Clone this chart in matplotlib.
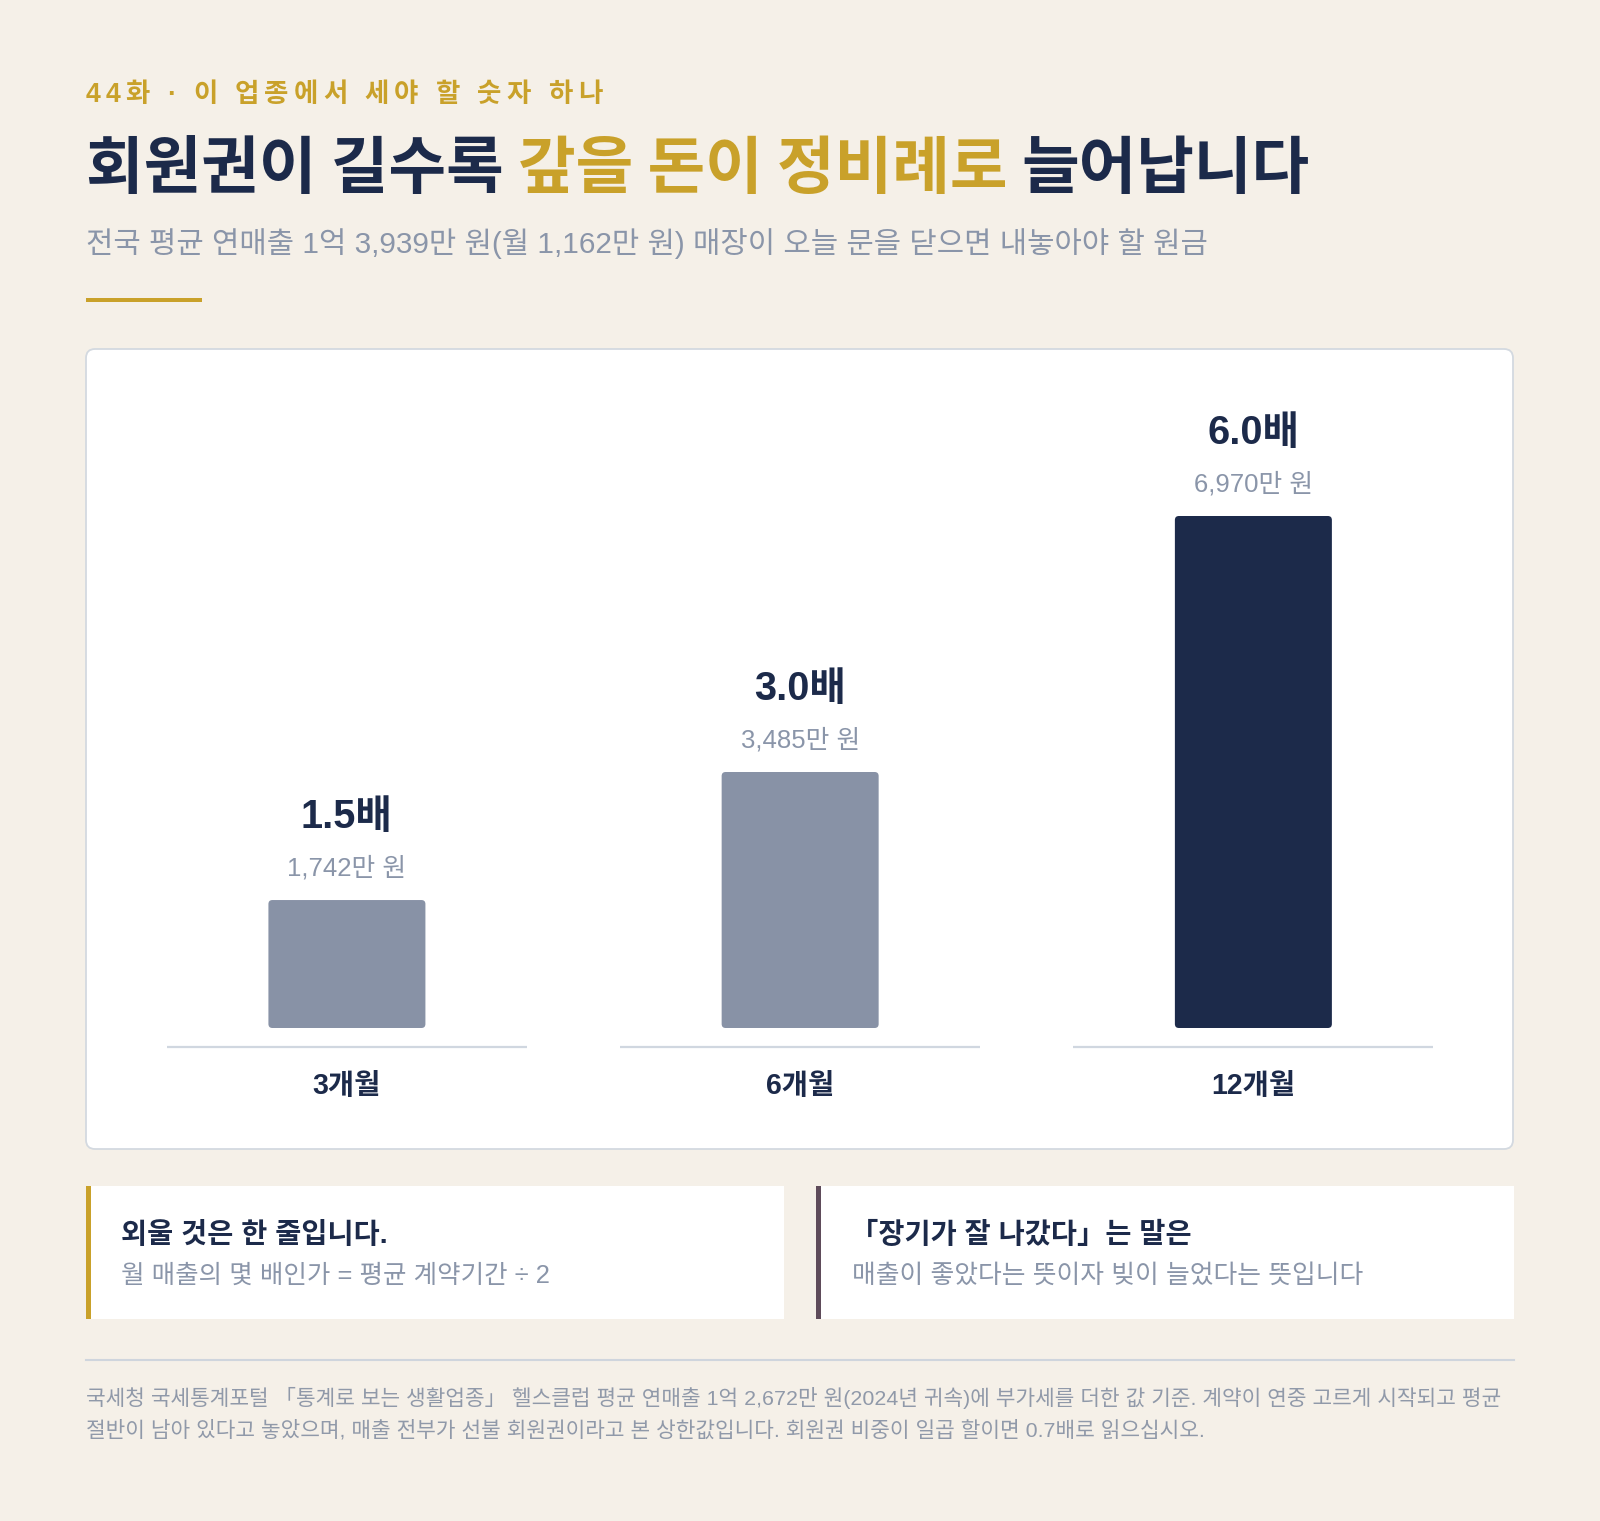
import matplotlib
matplotlib.use('Agg')
import matplotlib.pyplot as plt
from matplotlib.patches import FancyBboxPatch, Rectangle

# ---------------- data ----------------
periods = ['3개월', '6개월', '12개월']
multiples = [1.5, 3.0, 6.0]
amounts = [1742, 3485, 6970]          # 만 원
highlight = [False, False, True]

kicker = '44화 · 이 업종에서 세야 할 숫자 하나'
title_parts = ['회원권이 길수록 ', '갚을 돈이 정비례로', ' 늘어납니다']
subtitle = '전국 평균 연매출 1억 3,939만 원(월 1,162만 원) 매장이 오늘 문을 닫으면 내놓아야 할 원금'
card1_title = '외울 것은 한 줄입니다.'
card1_text = '월 매출의 몇 배인가 = 평균 계약기간 ÷ 2'
card2_title = '「장기가 잘 나갔다」는 말은'
card2_text = '매출이 좋았다는 뜻이자 빚이 늘었다는 뜻입니다'
foot_lines = [
    '국세청 국세통계포털 「통계로 보는 생활업종」 헬스클럽 평균 연매출 1억 2,672만 원(2024년 귀속)에 부가세를 더한 값 기준. 계약이 연중 고르게 시작되고 평균',
    '절반이 남아 있다고 놓았으며, 매출 전부가 선불 회원권이라고 본 상한값입니다. 회원권 비중이 일곱 할이면 0.7배로 읽으십시오.',
]

# ---------------- style ----------------
BG = '#f5f0e8'
NAVY = '#1c2a4a'
GOLD = '#c9a12a'
BARGRAY = '#8892a6'
TXTGRAY = '#8a95a9'
FOOTGRAY = '#9099a9'
LINE = '#d0d7e0'
ACCENT2 = '#5e4b5a'
MIX = ['Liberation Sans', 'Noto Sans CJK KR']
CJK = ['Noto Sans CJK KR', 'DejaVu Sans']

W, H = 1600, 1521
fig = plt.figure(figsize=(16, 15.21), dpi=100, facecolor=BG)
renderer = fig.canvas.get_renderer()
bg = fig.add_axes([0, 0, 1, 1], zorder=0)
bg.set_xlim(0, W)
bg.set_ylim(H, 0)
bg.axis('off')


def measure(s, fs, **kw):
    t = bg.text(0, 0, s, fontsize=fs, **kw)
    w = t.get_window_extent(renderer).width
    t.remove()
    return w


def fit_size(s, width, fs=20, **kw):
    for _ in range(3):
        fs *= width / measure(s, fs, **kw)
    return fs


def fit_text(x, y, s, width, **kw):
    fs = fit_size(s, width, **kw)
    return bg.text(x, y, s, fontsize=fs, ha='left', va='center', **kw), fs


# ---------------- header ----------------
# kicker with letter spacing
kfs = 26.5 * 0.72
kprops = dict(family=MIX, weight='bold', color=GOLD)
nat = measure(kicker, kfs, **kprops)
spacing = (516 - nat) / (len(kicker) - 1)
for i, ch in enumerate(kicker):
    if ch == ' ':
        continue
    off = measure(kicker[:i + 1], kfs, **kprops) - measure(ch, kfs, **kprops)
    bg.text(86 + off + i * spacing, 95, ch, fontsize=kfs, ha='left', va='center', **kprops)

# title in three colours
tprops = dict(family=CJK, weight='bold')
full_title = ''.join(title_parts)
tfs = fit_size(full_title, 1224, fs=40, **tprops)
colors = [NAVY, GOLD, NAVY]
prefix = ''
for part, c in zip(title_parts, colors):
    seg = part.lstrip(' ')
    lead = prefix + part[:len(part) - len(seg)]
    if lead:
        off = measure(lead + seg[0], tfs, **tprops) - measure(seg[0], tfs, **tprops)
    else:
        off = 0
    bg.text(86 + off, 169, seg.rstrip(' '), fontsize=tfs, ha='left', va='center', color=c, **tprops)
    prefix += part

fit_text(86, 244, subtitle, 1121, family=MIX, color=TXTGRAY)
bg.add_patch(Rectangle((86, 298), 116, 4, color=GOLD, lw=0))

# ---------------- chart card ----------------
bg.add_patch(FancyBboxPatch((86, 349), 1427, 800, boxstyle='round,pad=0,rounding_size=9',
                            fc='white', ec='#d3d9e0', lw=1.3))

ax_l, ax_r, ax_b, ax_t = 120.3, 1480.0, 1028.0, 380.0
ax = fig.add_axes([ax_l / W, (H - ax_b) / H, (ax_r - ax_l) / W, (ax_b - ax_t) / H], zorder=2)
ax.patch.set_alpha(0)
ax.axis('off')
ppu = 512.0 / 6970.0               # pixels per data unit (layout scale)
ax.set_xlim(-0.5, len(periods) - 0.5)
ax.set_ylim(0, (ax_b - ax_t) / ppu)
pxx = (ax_r - ax_l) / len(periods)  # pixels per x unit

xs = list(range(len(periods)))
bar_cols = [NAVY if h else BARGRAY for h in highlight]
bars = ax.bar(xs, amounts, width=157 / pxx, color=bar_cols)
rx = 4 / pxx
ry = 4 / ppu
for p in list(bars.patches):
    x0, y0, w, h = p.get_x(), p.get_y(), p.get_width(), p.get_height()
    fc = p.get_facecolor()
    p.set_visible(False)
    ax.add_patch(FancyBboxPatch((x0, y0), w, h, boxstyle=f'round,pad=0,rounding_size={rx}',
                                mutation_aspect=ry / rx, fc=fc, ec='none'))

# baselines
yb = -19 / ppu
for i in xs:
    ax.plot([i - 180 / pxx, i + 180 / pxx], [yb, yb], color=LINE, lw=1.6, clip_on=False,
            solid_capstyle='butt')

mfs = fit_size('6.0배', 92, fs=28, family=MIX, weight='bold')
afs = fit_size('6,970만 원', 119, fs=17, family=MIX)
cfs = fit_size('12개월', 84, fs=19, family=MIX, weight='bold')
for i, (m, a, per) in enumerate(zip(multiples, amounts, periods)):
    ax.annotate(f'{m:.1f}배', xy=(i, a), xytext=(0, 83 * 0.72), textcoords='offset points',
                ha='center', va='center', fontsize=mfs, family=MIX, weight='bold', color=NAVY)
    ax.annotate(f'{a:,}만 원', xy=(i, a), xytext=(0, 32 * 0.72), textcoords='offset points',
                ha='center', va='center', fontsize=afs, family=MIX, color=TXTGRAY)
    ax.annotate(per, xy=(i, 0), xytext=(0, -58 * 0.72), textcoords='offset points',
                ha='center', va='center', fontsize=cfs, family=MIX, weight='bold', color=NAVY,
                annotation_clip=False)

# ---------------- bottom cards ----------------
for x0, acc in [(86, GOLD), (816, ACCENT2)]:
    bg.add_patch(Rectangle((x0, 1186), 698, 133, fc='white', ec='none'))
    bg.add_patch(Rectangle((x0, 1186), 5, 133, fc=acc, ec='none'))

fit_text(121, 1235, card1_title, 266, family=MIX, weight='bold', color=NAVY)
fit_text(121, 1276, card1_text, 428, family=MIX, color=TXTGRAY)
fit_text(850, 1235, card2_title, 342, family=MIX, weight='bold', color=NAVY)
fit_text(852, 1276, card2_text, 511, family=MIX, color=TXTGRAY)

# ---------------- footer ----------------
bg.plot([86, 1514], [1360, 1360], color='#cfd5dd', lw=1.5)
_, ffs = fit_text(86, 1398, foot_lines[0], 1414, family=MIX, color=FOOTGRAY)
bg.text(86, 1430, foot_lines[1], fontsize=ffs, ha='left', va='center', family=MIX, color=FOOTGRAY)

fig.savefig('out.png', dpi=100, facecolor=BG)
